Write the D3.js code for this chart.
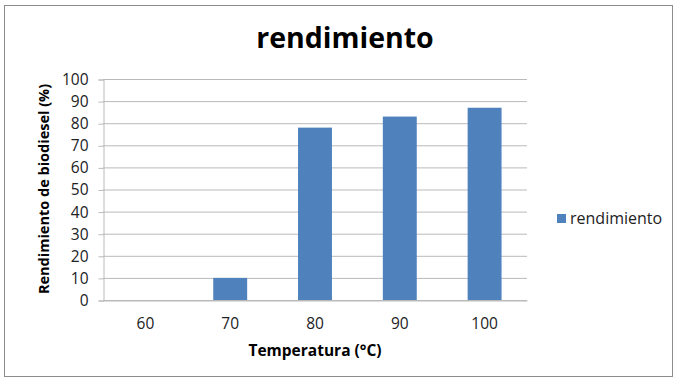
<!DOCTYPE html>
<html><head><meta charset="utf-8">
<script src="https://cdn.jsdelivr.net/npm/d3@7"></script>
<style>body{margin:0;background:#fff;} text{font-family:"Open Sans",sans-serif;}</style>
</head><body>
<svg id="c" width="679" height="381"></svg>
<script>
const categories = ["60","70","80","90","100"];
const values = [0,10,78,83,87];
const yTicks = [0,10,20,30,40,50,60,70,80,90,100];
const seriesName = "rendimiento";

(function(){
const FONT = "'Open Sans',sans-serif";
const svg = d3.select("#c");
svg.append("rect").attr("x",4.5).attr("y",5.5).attr("width",668).attr("height",371)
  .attr("fill","#fff").attr("stroke","#8c8c8c").attr("stroke-width",1);

const pLeft=103, pRight=527, pTop=79, pBottom=300;
const x = d3.scaleBand().domain(categories).range([pLeft,pRight]).paddingInner(0.6).paddingOuter(0.3);
const y = d3.scaleLinear().domain([0,100]).range([pBottom,pTop]);

svg.append("g").selectAll("line").data(yTicks).join("line")
  .attr("x1",pLeft).attr("x2",pRight).attr("y1",d=>y(d)+0.5).attr("y2",d=>y(d)+0.5)
  .attr("stroke","#bababa").attr("stroke-width",1);

const ya = svg.append("g").attr("transform",`translate(${pLeft+0.5},0.5)`)
  .call(d3.axisLeft(y).tickValues(yTicks).tickSize(5).tickPadding(10));
ya.select(".domain").attr("stroke","#bababa");
ya.selectAll(".tick line").attr("stroke","#bababa");
ya.selectAll("text").attr("font-size",15.5).attr("fill","#222").style("font-family",FONT);

svg.append("g").selectAll("rect").data(values).join("rect")
  .attr("x",(d,i)=>x(categories[i])).attr("width",x.bandwidth())
  .attr("y",d=>y(d)).attr("height",d=>y(0)-y(d)).attr("fill","#4f81bd");

const xa = svg.append("g").attr("transform",`translate(0,${pBottom+0.5})`)
  .call(d3.axisBottom(x).tickSize(0).tickPadding(17));
xa.select(".domain").attr("stroke","#bababa");
xa.selectAll("text").attr("font-size",15.5).attr("fill","#222").style("font-family",FONT);

svg.append("text").attr("x",345).attr("y",48).attr("text-anchor","middle")
  .attr("font-size",28.5).attr("font-weight","bold").attr("fill","#000").text("rendimiento");
svg.append("text").attr("x",315).attr("y",356).attr("text-anchor","middle")
  .attr("font-size",15.5).attr("font-weight","bold").attr("fill","#000").text("Temperatura (°C)");
svg.append("text").attr("transform","translate(49,189) rotate(-90)").attr("text-anchor","middle")
  .attr("font-size",14.5).attr("font-weight","bold").attr("fill","#000").text("Rendimiento de biodiesel (%)");

svg.append("rect").attr("x",557).attr("y",214).attr("width",9).attr("height",9).attr("fill","#4f81bd");
svg.append("text").attr("x",570).attr("y",224).attr("font-size",16).attr("fill","#222").text(seriesName);
})();
</script>
</body></html>
